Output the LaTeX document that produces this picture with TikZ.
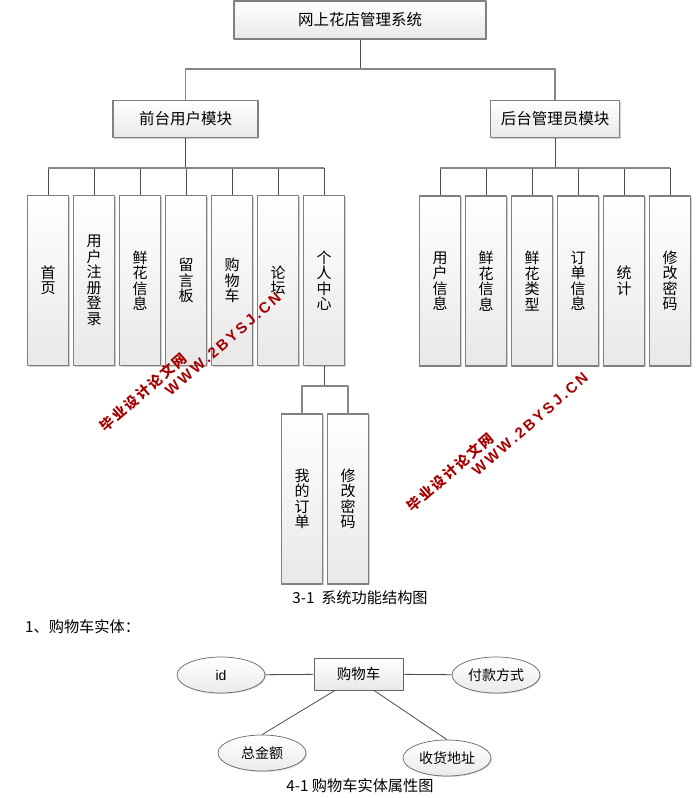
\documentclass[tikz,border=0pt]{standalone}
\usepackage{fontspec}
\setmainfont{Noto Sans CJK SC}
\newfontfamily\latinfont{Liberation Sans}
\usetikzlibrary{shapes.geometric,shadows}
\tikzset{
 modbox/.style={draw=black!50,line width=1.2pt,top color=white,bottom color=black!9,inner sep=0pt,
  drop shadow={shadow xshift=1.4pt,shadow yshift=-1.4pt,fill=black!18,opacity=1}},
 leafbox/.style={modbox,minimum width=41pt,minimum height=170pt,align=center,font=\fontsize{15}{15.5}\selectfont},
 attr/.style={ellipse,draw=black!60,line width=.7pt,top color=white,bottom color=black!8,inner sep=0pt,minimum width=88pt,minimum height=36pt,font=\fontsize{14}{15}\selectfont,
  drop shadow={shadow xshift=1pt,shadow yshift=-1pt,fill=black!15,opacity=1}},
 bar/.style={draw=black!48,line width=1.3pt},
 stem/.style={draw=black!70,line width=.8pt},
 erlink/.style={draw=black!70,line width=.8pt},
 mark1/.style={rotate=41,text=red!65!black,font=\fontsize{14}{16}\bfseries\selectfont},
 caption/.style={inner sep=0pt,font=\fontsize{15.2}{16}\selectfont}
}
\begin{document}
\begin{tikzpicture}[x=1pt,y=1pt,font=\fontsize{15.5}{17}\selectfont,line join=round]
 \useasboundingbox (0,0) rectangle (700,-798);
 % modules
 \node[modbox,minimum width=252pt,minimum height=38pt] (root) at (360,-20) {网上花店管理系统};
 \node[modbox,minimum width=145pt,minimum height=37pt] (front) at (185.5,-119) {前台用户模块};
 \node[modbox,minimum width=129pt,minimum height=37pt] (back) at (555,-119) {后台管理员模块};
 \coordinate (rootbus) at (360,-69);
 \draw[stem] (root.south) -- (rootbus);
 \draw[bar] (front.north) |- (rootbus) -| (back.north);
 % front leaves
 \coordinate (frontbus) at (185.5,-168);
 \draw[stem] (front.south) -- (frontbus);
 \foreach \n/\x/\txt in {a/48/{首\\页},b/94/{用\\户\\注\\册\\登\\录},c/140/{鲜\\花\\信\\息},d/186/{留\\言\\板},e/232/{购\\物\\车},f/278/{论\\坛},g/324/{个\\人\\中\\心}}{
  \node[leafbox] (front\n) at (\x,-280.5) {\txt};
  \draw[stem] (frontbus -| front\n.north) -- (front\n.north);
 }
 \draw[bar] (frontbus -| fronta.north) -- (frontbus -| frontg.north);
 % back leaves
 \coordinate (backbus) at (555,-168);
 \draw[stem] (back.south) -- (backbus);
 \foreach \n/\x/\txt in {a/440/{用\\户\\信\\息},b/486/{鲜\\花\\信\\息},c/532/{鲜\\花\\类\\型},d/578/{订\\单\\信\\息},e/624/{统\\计},f/670/{修\\改\\密\\码}}{
  \node[leafbox] (back\n) at (\x,-281) {\txt};
  \draw[stem] (backbus -| back\n.north) -- (back\n.north);
 }
 \draw[bar] (backbus -| backa.north) -- (backbus -| backf.north);
 % sub leaves
 \coordinate (subbus) at (324,-386);
 \draw[stem] (frontg.south) -- (subbus);
 \foreach \n/\x/\txt in {a/302/{我\\的\\订\\单},b/348/{修\\改\\密\\码}}{
  \node[leafbox] (sub\n) at (\x,-499) {\txt};
  \draw[bar] (subbus) -| (sub\n.north);
 }
 % texts
 \node[caption] (cap1) at (360,-598) {3-1\ \ 系统功能结构图};
 \node[caption,anchor=west] (head) at (25,-627) {1、购物车实体：};
 \node[caption] (cap2) at (360,-786) {4-1 购物车实体属性图};
 % entity
 \node[modbox,minimum width=89pt,minimum height=32pt,font=\fontsize{14.5}{15}\selectfont,draw=black!60,line width=.8pt] (cart) at (358.5,-674) {购物车};
 \node[attr] (id) at (221,-675) {\latinfont id};
 \node[attr] (pay) at (496,-675) {付款方式};
 \node[attr] (sum) at (262,-753) {总金额};
 \node[attr] (addr) at (447,-758) {收货地址};
 \draw[erlink] (id) -- (cart) (cart) -- (pay);
 \draw[erlink] (sum.north) -- (cart.south west -| 335,0);
 \draw[erlink] (addr.north) -- (cart.south east -| 374,0);
 % watermarks
 \foreach \n/\dx/\dy in {l/0/0,r/307/-80}{
  \node[mark1] (cn\n) at (143+\dx,-392+\dy) {毕\kern2pt 业\kern2pt 设\kern2pt 计\kern2pt 论\kern2pt 文\kern2pt 网};
  \node[mark1,font=\latinfont\fontsize{15}{16}\bfseries\selectfont] (www\n) at (223+\dx,-344+\dy) {W\,W\,W\,.\,2\,B\,Y\,S\,J\,.\,C\,N};
 }
\end{tikzpicture}
\end{document}
